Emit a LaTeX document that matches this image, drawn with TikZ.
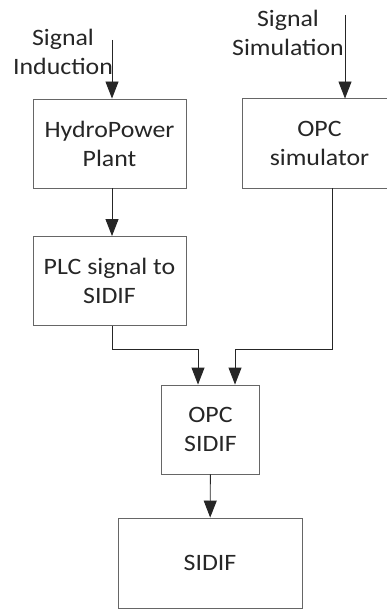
\documentclass[tikz,border=0pt]{standalone}
\usepackage{fontspec}
\setmainfont[FakeStretch=1.1]{Carlito}
\usetikzlibrary{arrows.meta}

\begin{document}
\begin{tikzpicture}[x=1pt,y=-1pt,>={Triangle[length=17pt,width=13pt]},
    font=\fontsize{23.5}{29}\selectfont,
    box/.style={draw=black!60,line width=0.9pt,minimum width=153pt,
        minimum height=89pt,inner sep=0pt,align=center,text=black!85},
    link/.style={draw=black!85,line width=0.9pt,->}]
    \useasboundingbox (0,0) rectangle (387,609);
    \clip (0,0) rectangle (387,609);

    % blocks
    \node[box] (hpp) at (109.5,143.5) {HydroPower\\Plant};
    \node[box] (plc) at (109.5,281) {PLC signal to\\SIDIF};
    \node[box,draw=none] (opcsim) at (319.5,143.5) {OPC\\simulator};
    \node[box,minimum width=98pt] (opcsidif) at (210.5,429.5) {OPC\\SIDIF};
    \node[box,minimum width=184pt,minimum height=90pt] (sidif) at (210,563) {SIDIF};

    % the simulator block runs off the right edge
    \draw[black!60,line width=0.9pt] ([xshift=30]opcsim.north east)
        -| (opcsim.south west) -- ([xshift=30]opcsim.south east);

    % input labels
    \node[align=center,text=black!85] (induct) at (63,52) {Signal\\Induction};
    \node[align=center,text=black!85] (simul) at (288,33) {Signal\\Simulation};
    \coordinate (inTop) at (112,40);
    \coordinate (simTop) at (345,15);

    \draw[link] (inTop) -- (inTop |- hpp.north);
    \draw[link] (simTop) -- (simTop |- opcsim.north);
    \draw[link] ([xshift=2.5]hpp.south) -- ([xshift=2.5]plc.north);

    \draw[link] ([xshift=3]plc.south) -- ++(0,23)
        -| ([xshift=-12.5]opcsidif.north);
    \draw[link] ([xshift=12.5]opcsim.south) -- ++(0,161)
        -| ([xshift=24.5]opcsidif.north);
    \draw[link] (opcsidif) -- (sidif);
\end{tikzpicture}
\end{document}
